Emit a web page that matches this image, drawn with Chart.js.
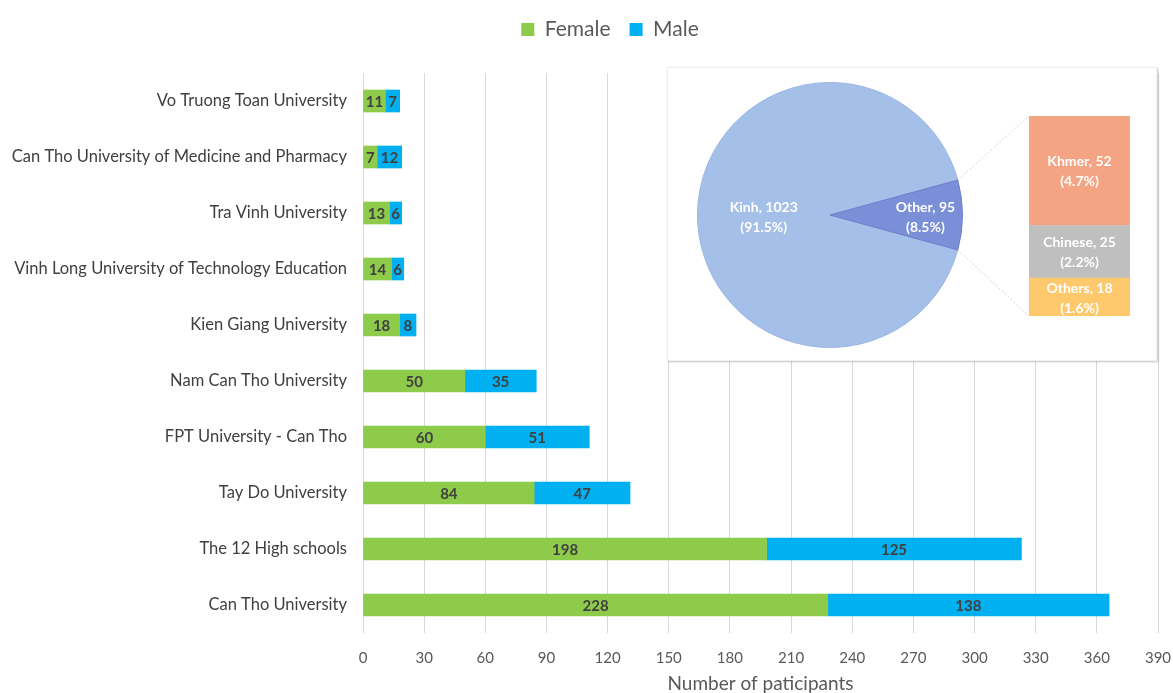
<!DOCTYPE html>
<html><head><meta charset="utf-8">
<script src="https://cdn.jsdelivr.net/npm/chart.js@4.4.1/dist/chart.umd.min.js"></script>
<style>
html,body{margin:0;padding:0;background:#fff;}
#wrap{position:relative;width:1173px;height:693px;overflow:hidden;}
#main{position:absolute;left:0;top:0;}
#inset{position:absolute;left:668px;top:68px;width:488px;height:292px;background:#fff;box-shadow:0 0 0 1px #eeeeee,1px 1px 2px 1px rgba(0,0,0,0.22);}
#pie{position:absolute;left:29px;top:14px;}
#bop{position:absolute;left:0;top:0;}
</style></head>
<body>
<div id="wrap">
<canvas id="main" width="1173" height="693"></canvas>
<div id="inset">
<canvas id="pie" width="266" height="266"></canvas>
<canvas id="bop" width="488" height="292"></canvas>
</div>
</div>
<script>
// ---- data ----
const categories = ['Vo Truong Toan University','Can Tho University of Medicine and Pharmacy','Tra Vinh University','Vinh Long University of Technology Education','Kien Giang University','Nam Can Tho University','FPT University - Can Tho','Tay Do University','The 12 High schools','Can Tho University'];
const femaleValues = [11,7,13,14,18,50,60,84,198,228];
const maleValues = [7,12,6,6,8,35,51,47,125,138];
const seriesNames = ['Female','Male'];
const xMin = 0, xMax = 390, xStep = 30;
const axisTitle = 'Number of paticipants';

const ethnicLabels = ['Kinh','Other'];
const ethnicValues = [1023,95];
const otherLabels = ['Khmer','Chinese','Others'];   // top to bottom
const otherValues = [52,25,18];

// ---- styles ----
Chart.defaults.font.family = 'Lato, "Open Sans", sans-serif';
const GREEN = '#8fcb4b', BLUE = '#00b0f0';
const totalEthnic = ethnicValues.reduce((a,b)=>a+b,0);
const pct = v => (v/totalEthnic*100).toFixed(1)+'%';

const barLabels = {
  id:'barLabels',
  afterDatasetsDraw(chart){
    const ctx = chart.ctx; ctx.save();
    ctx.font = 'bold 15px Lato, sans-serif'; ctx.fillStyle = '#404040';
    ctx.textAlign = 'center'; ctx.textBaseline = 'middle';
    chart.data.datasets.forEach((ds,i)=>{
      chart.getDatasetMeta(i).data.forEach((el,j)=>{
        ctx.fillText(String(ds.data[j]), (el.x+el.base)/2, el.y+1);
      });
    });
    ctx.restore();
  }
};
const legendShift = {
  id:'legendShift',
  afterLayout(chart){ if(chart.legend){ chart.legend.left += 47; } }
};

new Chart(document.getElementById('main'), {
  type:'bar',
  data:{ labels:categories, datasets:[
    {label:seriesNames[0], data:femaleValues, backgroundColor:GREEN, borderWidth:0, barThickness:22},
    {label:seriesNames[1], data:maleValues, backgroundColor:BLUE, borderWidth:0, barThickness:22}
  ]},
  options:{
    indexAxis:'y', responsive:false, maintainAspectRatio:false, animation:false,
    layout:{padding:{left:0,right:0,top:0,bottom:0}},
    plugins:{
      legend:{position:'top', labels:{boxWidth:13, boxHeight:13, padding:19, color:'#595959', font:{size:21}}},
      title:{display:true, text:'', weight:500, padding:{top:0,bottom:0}, font:{size:23, lineHeight:1}},
      tooltip:{enabled:false}
    },
    scales:{
      x:{stacked:true, min:xMin, max:xMax,
         ticks:{stepSize:xStep, padding:16, color:'#595959', font:{size:15}, autoSkip:false, maxRotation:0},
         grid:{color:'#d9d9d9', drawTicks:false}, border:{display:false},
         title:{display:true, text:axisTitle, color:'#595959', font:{size:19, lineHeight:1}, padding:{top:0,bottom:0}},
         afterFit(s){ s.height = 60; s.paddingRight = 15; }},
      y:{stacked:true,
         ticks:{padding:16, color:'#404040', font:{size:16.5}},
         grid:{display:false, drawTicks:false}, border:{display:false},
         afterFit(s){ s.width = 363; }}
    }
  },
  plugins:[barLabels, legendShift]
});

// ---- pie ----
const otherSweep = ethnicValues[1]/totalEthnic*360;
const pieText = {
  id:'pieText',
  afterDatasetsDraw(chart){
    const ctx = chart.ctx; ctx.save();
    ctx.font = 'bold 14px Lato, sans-serif'; ctx.fillStyle = '#ffffff';
    ctx.textAlign = 'center'; ctx.textBaseline = 'middle';
    const fr = [0.5, 0.72];
    chart.getDatasetMeta(0).data.forEach((el,i)=>{
      const p = el.getProps(['x','y','startAngle','endAngle','outerRadius'], true);
      const mid = (p.startAngle+p.endAngle)/2;
      const cx = p.x + Math.cos(mid)*p.outerRadius*fr[i];
      const cy = p.y + Math.sin(mid)*p.outerRadius*fr[i] + 2;
      ctx.fillText(ethnicLabels[i]+', '+ethnicValues[i], cx, cy-10);
      ctx.fillText('('+pct(ethnicValues[i])+')', cx, cy+10);
    });
    ctx.restore();
  }
};
const pieChart = new Chart(document.getElementById('pie'), {
  type:'pie',
  data:{labels:ethnicLabels, datasets:[{data:ethnicValues, backgroundColor:['#a5c0e8','#7a8fd8'], borderColor:['#9ab6e2','#6b7fcb'], borderWidth:1}]},
  options:{responsive:false, animation:false, rotation:90+otherSweep/2, layout:{padding:0},
    plugins:{legend:{display:false}, tooltip:{enabled:false}}},
  plugins:[pieText]
});

// ---- bar of pie ----
const otherColors = ['#f5a483','#bfbfbf','#fdc96c'];
const bopText = {
  id:'bopText',
  afterDatasetsDraw(chart){
    const ctx = chart.ctx; ctx.save();
    ctx.font = 'bold 14px Lato, sans-serif'; ctx.fillStyle = '#ffffff';
    ctx.textAlign = 'center'; ctx.textBaseline = 'middle';
    chart.data.datasets.forEach((ds,i)=>{
      const el = chart.getDatasetMeta(i).data[0];
      const cy = (el.y+el.base)/2 + 1;
      ctx.fillText(ds.label+', '+ds.data[0], el.x, cy-10);
      ctx.fillText('('+pct(ds.data[0])+')', el.x, cy+10);
    });
    ctx.restore();
  },
  afterDraw(chart){
    const pc = document.getElementById('pie');
    const ox = pc.offsetLeft, oy = pc.offsetTop;
    const arc = pieChart.getDatasetMeta(0).data[1].getProps(['x','y','startAngle','endAngle','outerRadius'], true);
    const n = chart.data.datasets.length;
    const topEl = chart.getDatasetMeta(n-1).data[0];
    const botEl = chart.getDatasetMeta(0).data[0];
    const left = topEl.x - topEl.width/2;
    const ctx = chart.ctx; ctx.save();
    ctx.strokeStyle = '#d4d4d4'; ctx.lineWidth = 1; ctx.setLineDash([2,2]);
    ctx.beginPath();
    ctx.moveTo(ox+arc.x+Math.cos(arc.startAngle)*arc.outerRadius, oy+arc.y+Math.sin(arc.startAngle)*arc.outerRadius);
    ctx.lineTo(left, topEl.y);
    ctx.moveTo(ox+arc.x+Math.cos(arc.endAngle)*arc.outerRadius, oy+arc.y+Math.sin(arc.endAngle)*arc.outerRadius);
    ctx.lineTo(left, botEl.base);
    ctx.stroke();
    ctx.restore();
  }
};
new Chart(document.getElementById('bop'), {
  type:'bar',
  data:{labels:['Other'], datasets: otherLabels.map((l,i)=>({label:l, data:[otherValues[i]], backgroundColor:otherColors[i], borderWidth:0, barPercentage:1, categoryPercentage:1})).reverse()},
  options:{responsive:false, animation:false,
    layout:{padding:{left:361,right:26,top:48,bottom:44}},
    plugins:{legend:{display:false}, tooltip:{enabled:false}},
    scales:{x:{display:false, stacked:true}, y:{display:false, stacked:true, min:0, max:otherValues.reduce((a,b)=>a+b,0)}}},
  plugins:[bopText]
});
</script>
</body></html>
